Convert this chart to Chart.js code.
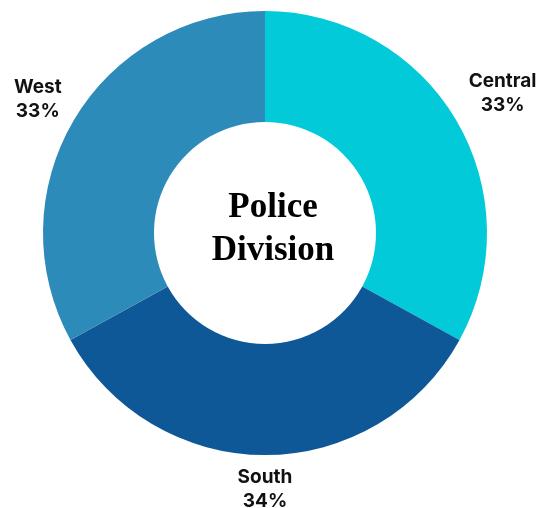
<!DOCTYPE html>
<html>
<head>
<meta charset="utf-8">
<script src="https://cdn.jsdelivr.net/npm/chart.js@4"></script>
<style>
  html, body { margin: 0; padding: 0; background: #fff; }
  #wrap { width: 549px; height: 508px; }
</style>
</head>
<body>
<div id="wrap"><canvas id="chart" width="549" height="508"></canvas></div>
<script>
// division shares (percent)
const divisions = ['Central', 'South', 'West'];
const shares = [33, 34, 33];
const colours = ['#02CAD9', '#0E5898', '#2D8BB9'];
const centerLines = ['Police', 'Division'];

// how far past the outer edge each label block sits
const labelGap = [54, 33, 42];

const outsideLabels = {
  id: 'outsideLabels',
  afterDatasetsDraw(chart) {
    const ctx = chart.ctx;
    const arcs = chart.getDatasetMeta(0).data;
    ctx.save();
    ctx.fillStyle = '#111';
    ctx.font = 'bold 19px Inter';
    ctx.textAlign = 'center';
    ctx.textBaseline = 'middle';
    arcs.forEach((arc, i) => {
      const mid = (arc.startAngle + arc.endAngle) / 2;
      const r = arc.outerRadius + labelGap[i];
      const x = arc.x + Math.cos(mid) * r;
      const y = arc.y + Math.sin(mid) * r;
      ctx.fillText(divisions[i], x, y - 11);
      ctx.fillText(shares[i] + '%', x, y + 13);
    });

    // title in the hole
    const a = arcs[0];
    ctx.font = 'bold 35px "Liberation Serif"';
    ctx.fillStyle = '#000';
    ctx.textBaseline = 'alphabetic';
    ctx.fillText(centerLines[0], a.x + 8, a.y - 16);
    ctx.fillText(centerLines[1], a.x + 8, a.y + 27);
    ctx.restore();
  }
};

new Chart(document.getElementById('chart').getContext('2d'), {
  type: 'doughnut',
  data: {
    labels: divisions,
    datasets: [{
      data: shares,
      backgroundColor: colours,
      borderWidth: 0
    }]
  },
  options: {
    responsive: false,
    animation: false,
    cutout: '50%',
    layout: { padding: { top: 11, bottom: 53, left: 43, right: 62 } },
    plugins: {
      legend: { display: false },
      tooltip: { enabled: false }
    }
  },
  plugins: [outsideLabels]
});
</script>
</body>
</html>
